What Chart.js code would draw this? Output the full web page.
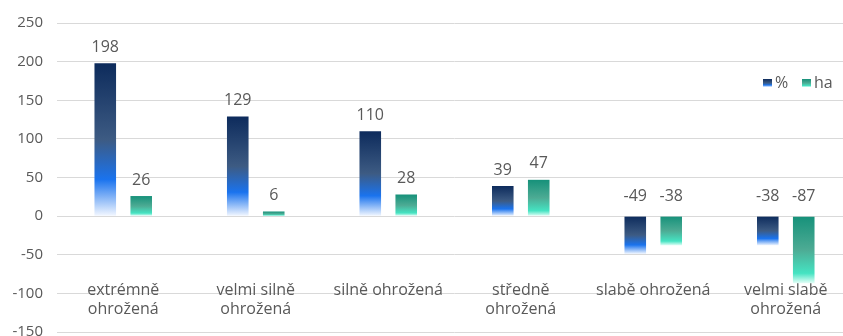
<!DOCTYPE html>
<html>
<head>
<meta charset="utf-8">
<script src="https://cdn.jsdelivr.net/npm/chart.js@4/dist/chart.umd.min.js"></script>
<style>
  html, body { margin: 0; padding: 0; background: #ffffff; overflow: hidden; }
  #wrap { width: 843px; height: 336px; overflow: hidden; }
</style>
</head>
<body>
<div id="wrap"><canvas id="c" width="852" height="355"></canvas></div>
<script>
const categories = [
  ['extrémně', 'ohrožená'],
  ['velmi silně', 'ohrožená'],
  'silně ohrožená',
  ['středně', 'ohrožená'],
  'slabě ohrožená',
  ['velmi slabě', 'ohrožená']
];
const seriesNames = ['%', 'ha'];
const percentValues = [198, 129, 110, 39, -49, -38];
const haValues = [26, 6, 28, 47, -38, -87];
const yTicks = { min: -150, max: 250, step: 50 };

const FONT = "'Open Sans', 'Noto Sans', sans-serif";
const TEXT = '#595959';

const stopsPct = [[0, '#0d2b5c'], [0.5, '#3d5b83'], [0.76, '#1a73ee'], [1, '#f4f8ff']];
const stopsHa = [[0, '#16917a'], [0.5, '#4dab94'], [0.85, '#45e3c2'], [1, '#e6fff8']];

function barGradient(stops) {
  return function (ctx) {
    const chart = ctx.chart;
    if (!chart.chartArea || ctx.type !== 'data') return stops[0][1];
    const y = chart.scales.y;
    const p0 = y.getPixelForValue(0);
    const p1 = y.getPixelForValue(ctx.raw);
    const top = Math.min(p0, p1), bot = Math.max(p0, p1);
    const g = chart.ctx.createLinearGradient(0, top, 0, bot + 0.01);
    stops.forEach(s => g.addColorStop(s[0], s[1]));
    return g;
  };
}

const valueLabels = {
  id: 'valueLabels',
  afterDatasetsDraw(chart) {
    const c = chart.ctx;
    const y = chart.scales.y;
    const zero = y.getPixelForValue(0);
    c.save();
    c.font = '16px ' + FONT;
    c.fillStyle = TEXT;
    c.textAlign = 'center';
    c.textBaseline = 'middle';
    chart.data.datasets.forEach((ds, di) => {
      chart.getDatasetMeta(di).data.forEach((bar, i) => {
        const v = ds.data[i];
        const yy = v >= 0 ? bar.y - 16 : zero - 20;
        c.fillText(String(v), bar.x, yy);
      });
    });
    c.restore();
  }
};

const customLegend = {
  id: 'customLegend',
  afterDraw(chart) {
    const c = chart.ctx;
    const items = [
      { x: 763, stops: stopsPct, label: seriesNames[0] },
      { x: 802, stops: stopsHa, label: seriesNames[1] }
    ];
    const cy = 83;
    c.save();
    c.font = '16px ' + FONT;
    c.textBaseline = 'middle';
    c.textAlign = 'left';
    items.forEach(it => {
      const g = c.createLinearGradient(0, cy - 4, 0, cy + 4);
      it.stops.forEach(s => g.addColorStop(s[0], s[1]));
      c.fillStyle = g;
      c.fillRect(it.x, cy - 4, 9, 8);
      c.fillStyle = TEXT;
      c.fillText(it.label, it.x + 12, cy);
    });
    c.restore();
  }
};

new Chart(document.getElementById('c'), {
  type: 'bar',
  data: {
    labels: categories,
    datasets: [
      { label: seriesNames[0], data: percentValues, backgroundColor: barGradient(stopsPct), borderWidth: 0 },
      { label: seriesNames[1], data: haValues, backgroundColor: barGradient(stopsHa), borderWidth: 0 }
    ]
  },
  options: {
    responsive: false,
    animation: false,
    devicePixelRatio: 1,
    layout: { padding: { top: 23, bottom: 10, left: 0, right: 0 } },
    datasets: { bar: { categoryPercentage: 0.543, barPercentage: 0.6 } },
    plugins: { legend: { display: false }, tooltip: { enabled: false } },
    scales: {
      x: {
        position: { y: -80 },
        grid: { display: false, drawTicks: false },
        border: { display: false },
        ticks: {
          padding: 3,
          color: TEXT,
          font: { family: FONT, size: 16, lineHeight: 1.2 },
          maxRotation: 0,
          autoSkip: false
        }
      },
      y: {
        min: yTicks.min,
        max: yTicks.max,
        afterFit(scale) { scale.width = 57; },
        grid: { color: '#d9d9d9', lineWidth: 1, drawTicks: false },
        border: { display: false },
        ticks: {
          stepSize: yTicks.step,
          padding: 14,
          color: TEXT,
          font: { family: FONT, size: 15 }
        }
      }
    }
  },
  plugins: [valueLabels, customLegend]
});
</script>
</body>
</html>
